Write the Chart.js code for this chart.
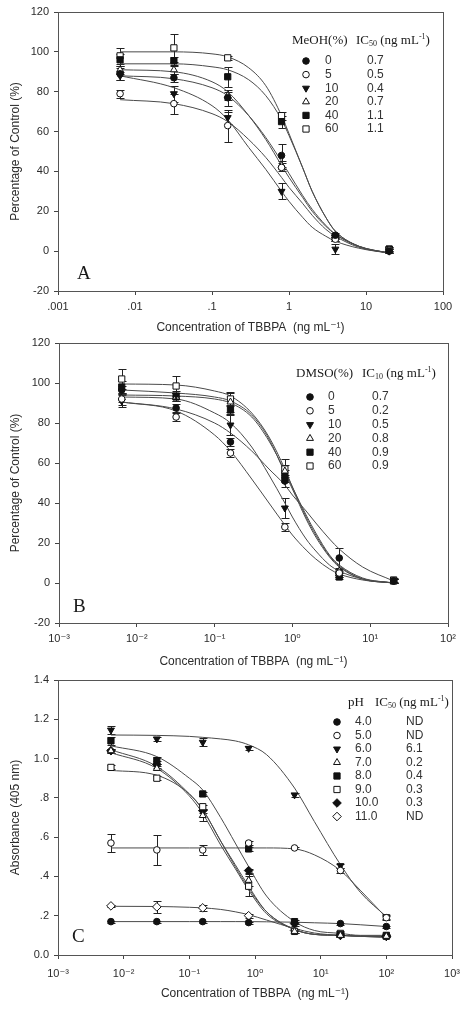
<!DOCTYPE html>
<html lang="en">
<head>
<meta charset="UTF-8">
<title>TBBPA inhibition curves</title>
<script src="https://cdn.jsdelivr.net/npm/chart.js"></script>
<style>
  body { margin: 0; background: #fff; }
  canvas { display: block; }
</style>
</head>
<body>
<canvas id="chartA" width="467" height="335"></canvas>
<canvas id="chartB" width="467" height="335"></canvas>
<canvas id="chartC" width="467" height="341"></canvas>
<script>
// ---------- shared ----------
const conc = [0.0064, 0.032, 0.16, 0.8, 4, 20];
const concC = [0.0064, 0.032, 0.16, 0.8, 4, 20, 100];
const fitX = [0.0064, 0.032, 0.1, 0.16, 0.3, 0.5, 0.8, 1, 1.5, 2, 3, 4, 8, 20];
const fitXC = [0.0064, 0.032, 0.1, 0.16, 0.3, 0.5, 0.8, 1.5, 4, 8, 20, 40, 100];

const pctTicks = [-20, 0, 20, 40, 60, 80, 100, 120];
const pctLabels = ['-20', '0', '20', '40', '60', '80', '100', '120'];
const absTicks = [0, 0.2, 0.4, 0.6, 0.8, 1.0, 1.2, 1.4];
const absLabels = ['0.0', '.2', '.4', '.6', '.8', '1.0', '1.2', '1.4'];

// ---------- panel A : methanol ----------
const xTicksA = [0.001, 0.01, 0.1, 1, 10, 100];
const xLabelsA = ['.001', '.01', '.1', '1', '10', '100'];
const meohLevels = ['0', '5', '10', '20', '40', '60'];
const meohIC50 = ['0.7', '0.5', '0.4', '0.7', '1.1', '1.1'];
const meohMeans = [
  [89, 87, 77, 48, 8, 0],
  [79, 74, 63, 42, 6, 0.5],
  [88, 79, 67, 30, 1, 0],
  [91, 91, 78, 43, 6, 0],
  [96, 95.5, 87.5, 65, 7, 1],
  [98, 102, 97, 68, 7, 1]
];
const meohErr = [
  [3, 2, 4, 6, 1, 1],
  [2, 5, 8, 2, 1, 1],
  [2, 4, 3, 4, 2.5, 1],
  [2, 2, 2, 2, 1, 1],
  [3, 2, 5, 3, 1, 1],
  [4, 7, 1, 2, 1, 1]
];
const meohFit = [
  [88, 86.5, 82, 78, 68, 57, 45, 39, 28, 21, 13, 8.5, 2.5, -1],
  [76, 74, 69, 65, 56, 47, 37, 32, 24, 18, 11, 7.5, 2, -1],
  [88, 82, 73, 66, 52, 41, 30, 25, 17, 12, 7.5, 5, 1.5, -1],
  [91, 90, 85, 80, 68, 56, 43, 37, 27, 20, 12.5, 8.5, 2.5, -1],
  [94, 94, 92.5, 91, 86, 78, 66, 58, 42, 30, 17, 10, 2.5, -1],
  [100, 100, 99, 97.5, 92, 83, 68, 59, 42, 30, 17, 10, 2.5, -1]
];

// ---------- panel B : DMSO ----------
const xTicksB = [0.001, 0.01, 0.1, 1, 10, 100];
const xLabelsB = ['10⁻³', '10⁻²', '10⁻¹', '10⁰', '10¹', '10²'];
const dmsoLevels = ['0', '5', '10', '20', '40', '60'];
const dmsoIC = ['0.7', '0.2', '0.5', '0.8', '0.9', '0.9'];
const dmsoMeans = [
  [96.5, 87.5, 70.5, 51, 12.5, 1],
  [92, 83, 65, 28, 5, 1],
  [91, 94, 79, 37.5, 4, 1],
  [92.5, 93, 90.5, 56, 6, 1],
  [98, 93, 86.5, 53.5, 3, 1],
  [102, 98.5, 92, 57, 5, 1.5]
];
const dmsoErr = [
  [2, 2, 2, 3, 5, 1],
  [3, 2, 2, 2, 1, 1],
  [3, 2, 5, 5, 1, 1],
  [2, 2, 5, 3, 1, 1],
  [3, 2, 2, 3, 1, 1],
  [5, 5, 3, 5, 2, 1]
];
const dmsoFit = [
  [90.5, 87, 80, 75, 66, 57, 49, 44, 36, 30, 22, 17, 8, 1],
  [90.5, 86, 74, 66, 52, 40, 29, 24, 16.5, 12, 7, 4.5, 1.5, 0],
  [93, 92, 85, 80, 68, 54, 40, 33, 22, 16, 9, 6, 2, 0],
  [94, 93.5, 92, 90, 83, 71, 56, 48, 34, 25, 14, 9, 2.5, 0],
  [96.5, 95, 93, 91, 84, 72, 55, 47, 32, 23, 13, 8, 2, 0],
  [99.5, 99, 96, 93.5, 85, 73, 57, 48, 33, 24, 13.5, 8.5, 2, 0]
];

// ---------- panel C : pH ----------
const xTicksC = [0.001, 0.01, 0.1, 1, 10, 100, 1000];
const xLabelsC = ['10⁻³', '10⁻²', '10⁻¹', '10⁰', '10¹', '10²', '10³'];
const phLevels = ['4.0', '5.0', '6.0', '7.0', '8.0', '9.0', '10.0', '11.0'];
const phIC50 = ['ND', 'ND', '6.1', '0.2', '0.4', '0.3', '0.3', 'ND'];
const phMeans = [
  [0.17, 0.17, 0.17, 0.165, 0.165, 0.16, 0.145],
  [0.57, 0.535, 0.535, 0.57, 0.545, 0.43, 0.19],
  [1.145, 1.10, 1.083, 1.052, 0.815, 0.455, 0.195],
  [1.04, 0.95, 0.71, 0.38, 0.12, 0.10, 0.095],
  [1.09, 0.99, 0.82, 0.54, 0.17, 0.105, 0.10],
  [0.955, 0.90, 0.755, 0.35, 0.12, 0.11, 0.095],
  [1.04, 0.97, 0.735, 0.43, 0.16, 0.10, 0.095],
  [0.25, 0.245, 0.24, 0.20, 0.125, 0.10, 0.095]
];
const phErr = [
  [0.005, 0.005, 0.005, 0.005, 0.005, 0.005, 0.005],
  [0.045, 0.075, 0.025, 0.01, 0.005, 0.015, 0.01],
  [0.02, 0.01, 0.02, 0.01, 0.01, 0.01, 0.01],
  [0.01, 0.01, 0.03, 0.03, 0.01, 0.01, 0.005],
  [0.02, 0.02, 0.01, 0.01, 0.01, 0.01, 0.005],
  [0.01, 0.01, 0.01, 0.05, 0.01, 0.01, 0.005],
  [0.01, 0.02, 0.01, 0.01, 0.01, 0.01, 0.005],
  [0.005, 0.03, 0.015, 0.01, 0.005, 0.005, 0.005]
];
const phFit = [
  [0.17, 0.17, 0.17, 0.17, 0.17, 0.17, 0.17, 0.169, 0.167, 0.164, 0.16, 0.154, 0.145],
  [0.545, 0.545, 0.545, 0.545, 0.545, 0.545, 0.545, 0.545, 0.54, 0.51, 0.43, 0.33, 0.19],
  [1.12, 1.118, 1.113, 1.108, 1.10, 1.09, 1.07, 1.02, 0.85, 0.68, 0.46, 0.32, 0.195],
  [1.03, 0.95, 0.81, 0.72, 0.56, 0.44, 0.33, 0.21, 0.13, 0.105, 0.10, 0.095, 0.09],
  [1.065, 1.01, 0.90, 0.84, 0.70, 0.57, 0.45, 0.30, 0.17, 0.125, 0.11, 0.10, 0.10],
  [0.94, 0.915, 0.82, 0.74, 0.58, 0.45, 0.34, 0.22, 0.13, 0.105, 0.10, 0.095, 0.095],
  [1.045, 0.96, 0.82, 0.74, 0.58, 0.46, 0.35, 0.22, 0.13, 0.105, 0.10, 0.095, 0.09],
  [0.248, 0.247, 0.243, 0.24, 0.232, 0.22, 0.205, 0.178, 0.135, 0.112, 0.10, 0.097, 0.095]
];

// marker looks
const sixStyles = [
  { style: 'circle', fill: true, r: 3.3 },
  { style: 'circle', fill: false, r: 3.3 },
  { style: 'triangle', fill: true, r: 4, rot: 180 },
  { style: 'triangle', fill: false, r: 4 },
  { style: 'rect', fill: true, r: 4.4 },
  { style: 'rect', fill: false, r: 4.4 }
];
const eightStyles = sixStyles.concat([
  { style: 'rectRot', fill: true, r: 4.3 },
  { style: 'rectRot', fill: false, r: 4.3 }
]);

const SANS = '"Liberation Sans", Arial, "DejaVu Sans", sans-serif';
const SERIF = '"Liberation Serif", "Times New Roman", serif';
const INK = '#1a1a1a';

// ---------- plugins ----------
const frame = {
  id: 'frame',
  beforeDatasetsDraw(chart) {
    const a = chart.chartArea, ctx = chart.ctx;
    ctx.save();
    ctx.strokeStyle = '#555';
    ctx.lineWidth = 1;
    ctx.strokeRect(Math.round(a.left) + 0.5, Math.round(a.top) + 0.5,
      Math.round(a.right - a.left), Math.round(a.bottom - a.top));
    ctx.restore();
  }
};

const errorBars = {
  id: 'errorBars',
  beforeDatasetsDraw(chart) {
    const ctx = chart.ctx, ys = chart.scales.y;
    ctx.save();
    ctx.strokeStyle = '#222';
    ctx.lineWidth = 1;
    chart.data.datasets.forEach((ds, i) => {
      if (!ds.errors) return;
      chart.getDatasetMeta(i).data.forEach((pt, j) => {
        const e = ds.errors[j];
        if (!e) return;
        const v = ds.data[j].y;
        const top = Math.round(ys.getPixelForValue(v + e)) + 0.5;
        const bot = Math.round(ys.getPixelForValue(v - e)) + 0.5;
        const x = Math.round(pt.x) + 0.5;
        ctx.beginPath();
        ctx.moveTo(x, top); ctx.lineTo(x, bot);
        ctx.moveTo(x - 4, top); ctx.lineTo(x + 4, top);
        ctx.moveTo(x - 4, bot); ctx.lineTo(x + 4, bot);
        ctx.stroke();
      });
    });
    ctx.restore();
  }
};

function drawIC(ctx, x, y, sub) {
  const big = '13px ' + SERIF, small = '8px ' + SERIF;
  let w = 0;
  const put = (t, f, dy) => { ctx.font = f; ctx.fillText(t, x + w, y + dy); w += ctx.measureText(t).width; };
  put('IC', big, 0);
  put(sub, small, 3);
  put(' (ng mL', big, 0);
  put('-1', small, -4);
  put(')', big, 0);
}

const sideLegend = {
  id: 'sideLegend',
  afterDraw(chart, args, o) {
    const ctx = chart.ctx;
    ctx.save();
    ctx.textBaseline = 'middle';
    ctx.fillStyle = INK;
    ctx.font = '13px ' + SERIF;
    ctx.fillText(o.head, o.headX, o.headY);
    drawIC(ctx, o.icX, o.headY, o.sub);
    o.levels.forEach((lv, i) => {
      const y = o.rowY + i * o.rowGap;
      const st = o.styles[i];
      ctx.fillStyle = st.fill ? '#111' : '#fff';
      ctx.strokeStyle = '#111';
      ctx.lineWidth = 1;
      Chart.helpers.drawPoint(ctx, { pointStyle: st.style, radius: st.r, rotation: st.rot || 0, borderWidth: 1 }, o.markX, y);
      ctx.fillStyle = '#333';
      ctx.font = '12px ' + SANS;
      ctx.fillText(lv, o.levelX, y);
      ctx.fillText(o.values[i], o.valX, y);
    });
    ctx.fillStyle = INK;
    ctx.textBaseline = 'alphabetic';
    ctx.font = '19px ' + SERIF;
    ctx.fillText(o.letter, o.letterX, o.letterY);
    ctx.restore();
  }
};

// ---------- builder ----------
function makeChart(id, p) {
  const datasets = [];
  p.means.forEach((m, i) => {
    const st = p.styles[i];
    datasets.push({
      data: p.markX.map((x, j) => ({ x, y: m[j] })),
      errors: p.errs[i],
      showLine: false,
      pointStyle: st.style,
      pointRotation: st.rot || 0,
      pointRadius: st.r,
      pointBorderWidth: 1,
      pointBorderColor: '#111',
      pointBackgroundColor: st.fill ? '#111' : '#fff',
      order: 0
    });
  });
  p.fits.forEach(f => {
    datasets.push({
      data: p.fitX.map((x, j) => ({ x, y: f[j] })),
      showLine: true,
      borderColor: '#4a4a4a',
      borderWidth: 1,
      pointRadius: 0,
      cubicInterpolationMode: 'monotone',
      order: 1
    });
  });

  return new Chart(document.getElementById(id), {
    type: 'scatter',
    data: { datasets },
    plugins: [frame, errorBars, sideLegend],
    options: {
      responsive: false,
      animation: false,
      events: [],
      layout: { padding: { left: 0, right: p.padRight, top: p.padTop, bottom: 0 } },
      plugins: { legend: { display: false }, tooltip: { enabled: false }, sideLegend: p.legend },
      scales: {
        x: {
          type: 'logarithmic',
          min: p.xTicks[0],
          max: p.xTicks[p.xTicks.length - 1],
          afterBuildTicks: s => { s.ticks = p.xTicks.map(v => ({ value: v })); },
          afterFit: s => { s.height = p.xHeight; s.paddingLeft = 0; s.paddingRight = 0; },
          ticks: {
            callback: (v, i) => p.xLabels[i],
            autoSkip: false, maxRotation: 0, padding: p.xTickPad,
            font: { size: 11, family: SANS }, color: '#2b2b2b'
          },
          grid: { drawOnChartArea: false, tickLength: 4, color: '#444' },
          border: { display: false },
          title: {
            display: true, text: 'Concentration of TBBPA  (ng mL⁻¹)',
            font: { size: 12, family: SANS }, color: '#2b2b2b',
            padding: { top: 0, bottom: p.xTitlePad }
          }
        },
        y: {
          type: 'linear',
          min: p.yTicks[0],
          max: p.yTicks[p.yTicks.length - 1],
          afterBuildTicks: s => { s.ticks = p.yTicks.map(v => ({ value: v })); },
          afterFit: s => { s.width = p.yWidth; s.paddingTop = 0; s.paddingBottom = 0; },
          ticks: {
            callback: (v, i) => p.yLabels[i],
            padding: 5,
            font: { size: 11, family: SANS }, color: '#2b2b2b'
          },
          grid: { drawOnChartArea: false, tickLength: 4, color: '#444' },
          border: { display: false },
          title: {
            display: true, text: p.yTitle,
            font: { size: 12, family: SANS }, color: '#2b2b2b',
            padding: { top: 8, bottom: 0 }
          }
        }
      }
    }
  });
}

makeChart('chartA', {
  means: meohMeans, errs: meohErr, fits: meohFit, styles: sixStyles,
  markX: conc, fitX: fitX,
  xTicks: xTicksA, xLabels: xLabelsA, yTicks: pctTicks, yLabels: pctLabels,
  yTitle: 'Percentage of Control (%)',
  padRight: 24, padTop: 12, yWidth: 58, xHeight: 44, xTickPad: 5, xTitlePad: 0,
  legend: {
    head: 'MeOH(%)', headX: 292, headY: 41, icX: 356, sub: '50',
    levels: meohLevels, values: meohIC50, styles: sixStyles,
    rowY: 61, rowGap: 13.6, markX: 306, levelX: 325, valX: 367,
    letter: 'A', letterX: 77, letterY: 279
  }
});

makeChart('chartB', {
  means: dmsoMeans, errs: dmsoErr, fits: dmsoFit, styles: sixStyles,
  markX: conc, fitX: fitX,
  xTicks: xTicksB, xLabels: xLabelsB, yTicks: pctTicks, yLabels: pctLabels,
  yTitle: 'Percentage of Control (%)',
  padRight: 19, padTop: 8, yWidth: 59, xHeight: 47, xTickPad: 5, xTitlePad: 1,
  legend: {
    head: 'DMSO(%)', headX: 296, headY: 39, icX: 362, sub: '10',
    levels: dmsoLevels, values: dmsoIC, styles: sixStyles,
    rowY: 62, rowGap: 13.8, markX: 310, levelX: 328, valX: 372,
    letter: 'B', letterX: 73, letterY: 277
  }
});

makeChart('chartC', {
  means: phMeans, errs: phErr, fits: phFit, styles: eightStyles,
  markX: concC, fitX: fitXC,
  xTicks: xTicksC, xLabels: xLabelsC, yTicks: absTicks, yLabels: absLabels,
  yTitle: 'Absorbance (405 nm)',
  padRight: 15, padTop: 10, yWidth: 58, xHeight: 56, xTickPad: 8, xTitlePad: 10,
  legend: {
    head: 'pH', headX: 348, headY: 33, icX: 375, sub: '50',
    levels: phLevels, values: phIC50, styles: eightStyles,
    rowY: 52, rowGap: 13.5, markX: 337, levelX: 355, valX: 406,
    letter: 'C', letterX: 72, letterY: 272
  }
});
</script>
</body>
</html>
